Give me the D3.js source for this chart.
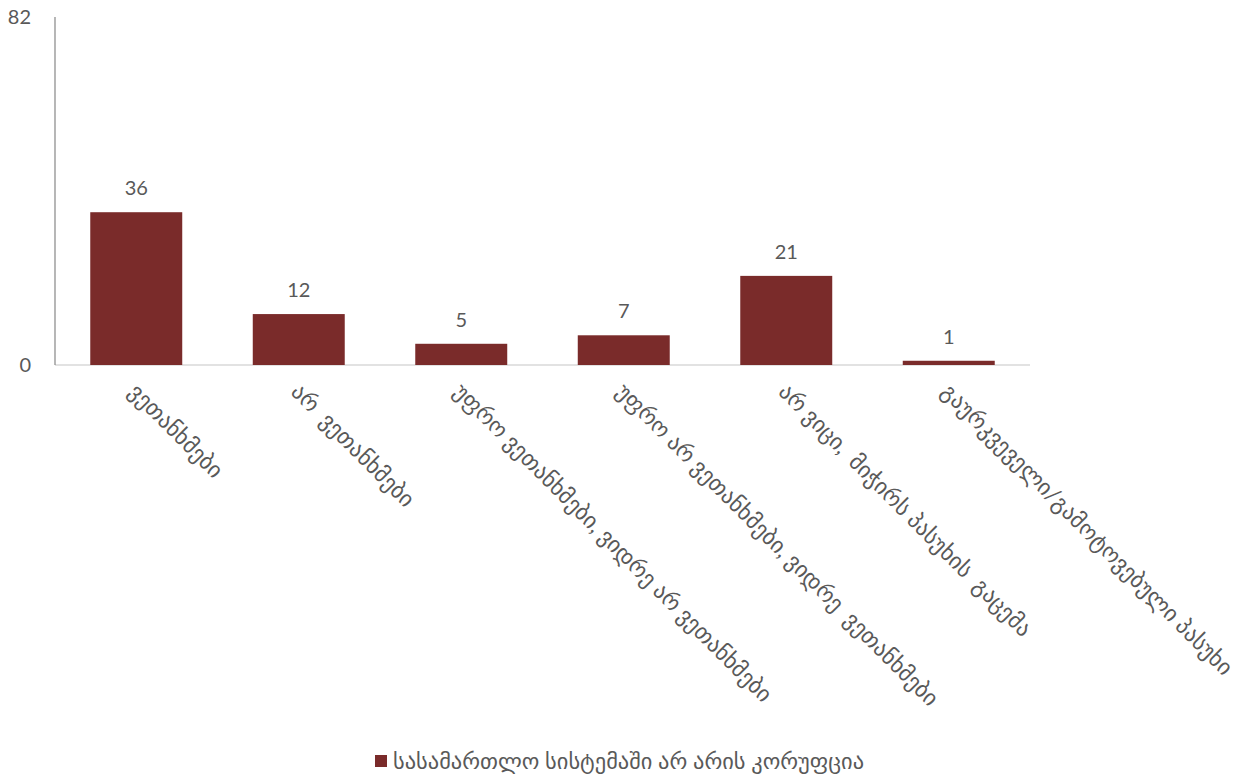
<!DOCTYPE html>
<html>
<head>
<meta charset="utf-8">
<script src="https://cdn.jsdelivr.net/npm/d3@7"></script>
<style>
  html, body { margin: 0; padding: 0; background: #fff; }
  svg text { font-family: Lato, "DejaVu Sans", sans-serif; fill: #595959; }
</style>
</head>
<body>
<svg id="chart" width="1242" height="778"></svg>
<script>
// categories + values
const categories = [
  'ვეთანხმები',
  'არ  ვეთანხმები',
  'უფრო ვეთანხმები, ვიდრე არ ვეთანხმები',
  'უფრო არ ვეთანხმები, ვიდრე  ვეთანხმები',
  'არ ვიცი,  მიჭირს პასუხის  გაცემა',
  'გაურკვეველი/გამოტოვებული პასუხი'
];
const values = [36, 12, 5, 7, 21, 1];
const yTicks = [0, 82];
const seriesName = 'სასამართლო სისტემაში არ არის კორუფცია';

const BAR = '#7a2b2a';
const svg = d3.select('#chart');
const m = { left: 55, right: 212, top: 17, bottom: 413 };
const W = 1242, H = 778;

const x = d3.scaleBand()
  .domain(categories)
  .range([m.left, W - m.right])
  .paddingInner(0.434)
  .paddingOuter(0.217);

const y = d3.scaleLinear()
  .domain([0, 82])
  .range([H - m.bottom, m.top]);

// x axis baseline
svg.append('line')
  .attr('x1', m.left).attr('x2', W - m.right)
  .attr('y1', y(0)).attr('y2', y(0))
  .attr('stroke', '#d9d9d9').attr('stroke-width', 1.5);

// y axis line
svg.append('line')
  .attr('x1', m.left).attr('x2', m.left)
  .attr('y1', y(82)).attr('y2', y(0))
  .attr('stroke', '#868686').attr('stroke-width', 1.2);

// y tick labels
svg.selectAll('.ytick')
  .data(yTicks)
  .join('text')
  .attr('class', 'ytick')
  .attr('x', 31).attr('y', d => y(d))
  .attr('dy', '0.35em')
  .attr('text-anchor', 'end')
  .style('font-size', '20px')
  .text(d => d);

// bars
svg.selectAll('.bar')
  .data(values)
  .join('rect')
  .attr('class', 'bar')
  .attr('x', (d, i) => x(categories[i]))
  .attr('width', x.bandwidth())
  .attr('y', d => y(d))
  .attr('height', d => y(0) - y(d))
  .attr('fill', BAR);

// value labels
svg.selectAll('.val')
  .data(values)
  .join('text')
  .attr('class', 'val')
  .attr('x', (d, i) => x(categories[i]) + x.bandwidth() / 2)
  .attr('y', d => y(d) - 17)
  .attr('text-anchor', 'middle')
  .style('font-size', '20px')
  .text(d => d);

// rotated category labels
svg.selectAll('.cat')
  .data(categories)
  .join('text')
  .attr('class', 'cat')
  .attr('transform', d => `translate(${x(d) + x.bandwidth() / 2 - 9},${y(0) + 28}) rotate(45)`)
  .attr('xml:space', 'preserve')
  .style('white-space', 'pre')
  .style('font-size', '22.5px')
  .text(d => d);

// legend
const lg = svg.append('g').attr('transform', 'translate(375,761)');
lg.append('rect')
  .attr('x', 0).attr('y', -6).attr('width', 12).attr('height', 12)
  .attr('fill', BAR);
lg.append('text')
  .attr('x', 18).attr('y', 0).attr('dy', '0.35em')
  .style('font-size', '22.4px')
  .text(seriesName);
</script>
</body>
</html>
